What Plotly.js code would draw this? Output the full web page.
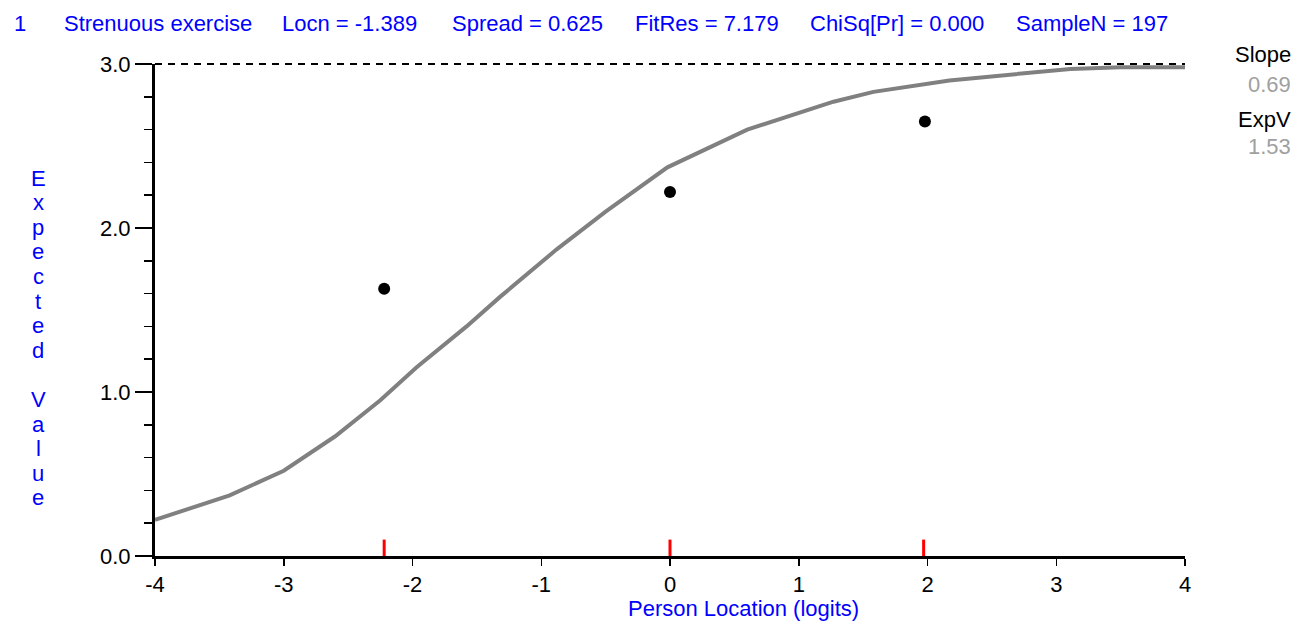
<!DOCTYPE html>
<html>
<head>
<meta charset="utf-8">
<script src="https://cdn.plot.ly/plotly-3.0.1.min.js"></script>
<style>html,body{margin:0;padding:0;background:#fff;}#chart{width:1301px;height:622px;}</style>
</head>
<body>
<div id="chart"></div>
<script>
// Expected value curve (model ICC)
const curveX = [-4, -3.42, -3.0, -2.6, -2.25, -1.97, -1.58, -1.32, -0.88, -0.5, -0.02, 0.6, 1.27, 1.58, 2.17, 2.6, 3.11, 3.5, 4];
const curveY = [0.22, 0.37, 0.52, 0.73, 0.95, 1.15, 1.40, 1.58, 1.87, 2.10, 2.37, 2.60, 2.77, 2.83, 2.90, 2.93, 2.97, 2.98, 2.98];
// Observed class means
const obsX = [-2.22, 0.0, 1.98];
const obsY = [1.63, 2.22, 2.65];
// Class interval markers on x axis
const classMarks = [-2.22, 0.0, 1.97];
const maxScore = 3;
const xTicks = [-4, -3, -2, -1, 0, 1, 2, 3, 4];
const yTicks = [0, 1, 2, 3];
const yTickText = ['0.0', '1.0', '2.0', '3.0'];
const headerItems = ['1', 'Strenuous exercise', 'Locn = -1.389', 'Spread = 0.625', 'FitRes = 7.179', 'ChiSq[Pr] = 0.000', 'SampleN = 197'];
const headerPx = [12, 62, 280, 450, 633, 808, 1014];
const sideLabels = ['Slope', '0.69', 'ExpV', '1.53'];
const yTitle = 'Expected Value';
const xTitle = 'Person Location (logits)';

const L = 155, R = 1185, T = 64, B = 556, W = 1301, H = 622;
const pw = R - L, ph = B - T;
const blue = '#0000ff';
const font = 'Liberation Sans, Arial, sans-serif';
const fs = 22;

const traces = [
  {x: curveX, y: curveY, mode: 'lines', line: {color: '#808080', width: 4}, hoverinfo: 'skip'},
  {x: obsX, y: obsY, mode: 'markers', marker: {color: '#000', size: 12}, hoverinfo: 'skip'}
];

const shapes = [
  // reference line at the maximum score (top edge of the plot, y range is [0, maxScore])
  {type: 'line', xref: 'paper', yref: 'paper', x0: 0, x1: 1, y0: 1, y1: 1,
   line: {color: '#000', width: 2, dash: '7px,6px'}}
];
classMarks.forEach(v => shapes.push({type: 'line', xref: 'x', yref: 'y', x0: v, x1: v, y0: 0, y1: 0.1,
  line: {color: '#ff0000', width: 3}}));

const annotations = [];
headerItems.forEach((t, i) => annotations.push({
  text: t, xref: 'paper', yref: 'paper', x: (headerPx[i] - L) / pw, y: (B - 23) / ph,
  xanchor: 'left', yanchor: 'middle', showarrow: false, font: {family: font, size: fs, color: blue}
}));
const sideY = [55, 84, 119, 146];
sideLabels.forEach((t, i) => annotations.push({
  text: t, xref: 'paper', yref: 'paper', x: (1293 - L) / pw, y: (B - sideY[i]) / ph,
  xanchor: 'right', yanchor: 'middle', showarrow: false,
  font: {family: font, size: fs, color: i % 2 ? '#a0a0a0' : '#000'}
}));
yTitle.split('').forEach((c, i) => {
  if (c === ' ') return;
  annotations.push({
    text: c, xref: 'paper', yref: 'paper', x: (38 - L) / pw, y: (B - (178 + i * 24.6)) / ph,
    xanchor: 'center', yanchor: 'middle', showarrow: false,
    font: {family: font, size: fs, color: blue}
  });
});
annotations.push({
  text: xTitle, xref: 'paper', yref: 'paper', x: (743 - L) / pw, y: (B - 608) / ph,
  xanchor: 'center', yanchor: 'middle', showarrow: false,
  font: {family: font, size: fs, color: blue}
});

const layout = {
  width: W, height: H,
  margin: {l: L, r: W - R, t: T, b: H - B, pad: 0},
  paper_bgcolor: '#fff', plot_bgcolor: '#fff',
  showlegend: false,
  font: {family: font, size: fs, color: '#000'},
  xaxis: {
    range: [xTicks[0], xTicks[xTicks.length - 1]], tickvals: xTicks, ticktext: xTicks.map(String),
    showgrid: false, zeroline: false, showline: true, linecolor: '#000', linewidth: 3,
    ticks: 'outside', ticklen: 7, tickwidth: 1.5, tickcolor: '#000',
    tickfont: {family: font, size: fs, color: '#000'}
  },
  yaxis: {
    range: [0, maxScore], tickvals: yTicks, ticktext: yTickText,
    showgrid: false, zeroline: false, showline: true, linecolor: '#000', linewidth: 3,
    ticks: 'outside', ticklen: 17, tickwidth: 2, tickcolor: '#000',
    minor: {dtick: 0.2, ticklen: 8, tickwidth: 1.5, tickcolor: '#000', ticks: 'outside', showgrid: false},
    tickfont: {family: font, size: fs, color: '#000'}
  },
  shapes: shapes,
  annotations: annotations
};

Plotly.newPlot('chart', traces, layout, {displayModeBar: false, staticPlot: true});
</script>
</body>
</html>
